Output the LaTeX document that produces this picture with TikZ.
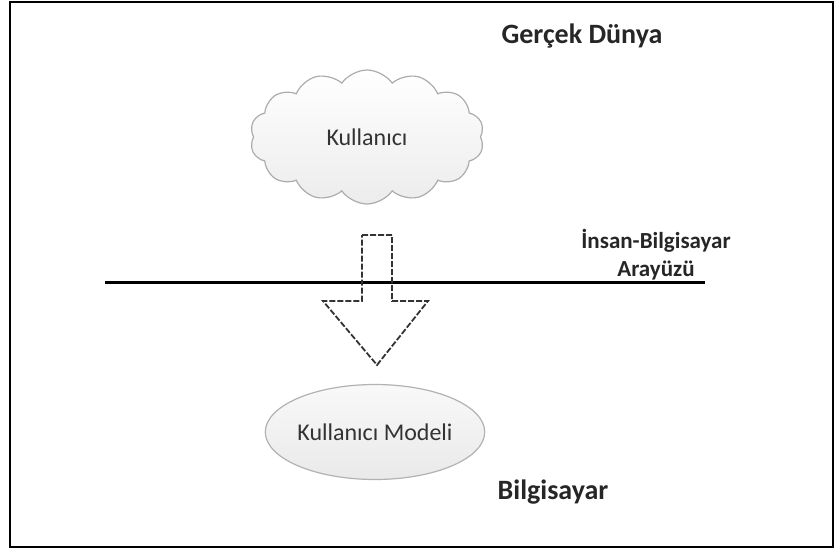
\documentclass[tikz,border=0pt]{standalone}
\usepackage{fontspec}
\setmainfont{Carlito}
\usetikzlibrary{shapes.symbols, shapes.geometric, positioning}

\tikzset{
  bigtitle/.style={font=\bfseries\fontsize{28}{32}\selectfont, text=black!85},
  blockarrow/.style={draw=black!80, line width=1.8pt, dash pattern=on 6pt off 2pt},
}

\begin{document}
\begin{tikzpicture}[x=1pt, y=-1pt, every node/.style={font=\fontsize{24}{28}\selectfont, text=black!80}]
    \useasboundingbox (0,0) rectangle (835,551);
    \draw [line width=2.5pt] (10,2) rectangle (833,547);

    \node (kullanici) [cloud, cloud puffs=14, cloud puff arc=110, aspect=1.8, draw=gray!65, line width=1.2pt, top color=white, bottom color=gray!15, minimum width=234pt, minimum height=134pt] at (367,137) {Kullanıcı};
    \node (model) [ellipse, draw=gray!60, line width=1.2pt, top color=gray!5, bottom color=gray!17, minimum width=184pt, minimum height=95pt, inner sep=0pt] at (375,432) {Kullanıcı Modeli};

    \node (gercek) [bigtitle] at (582,36) {Gerçek Dünya};
    \node (bilgisayar) [bigtitle] at (553,492) {Bilgisayar};
    \node (arayuz) [bigtitle, font=\bfseries\fontsize{23}{28}\selectfont, align=center] at (656,255) {İnsan-Bilgisayar\\Arayüzü};

    % interface line
    \coordinate (solu) at (105,282);
    \coordinate (sagu) at (705,282);
    \draw [line width=3pt] (solu) -- (sagu);

    % dashed block arrow
    \draw [blockarrow] (362,235) -- (392,235) -- (392,301) -- (428,301) -- (377,365) -- (323,301) -- (362,301) -- cycle;
\end{tikzpicture}
\end{document}
